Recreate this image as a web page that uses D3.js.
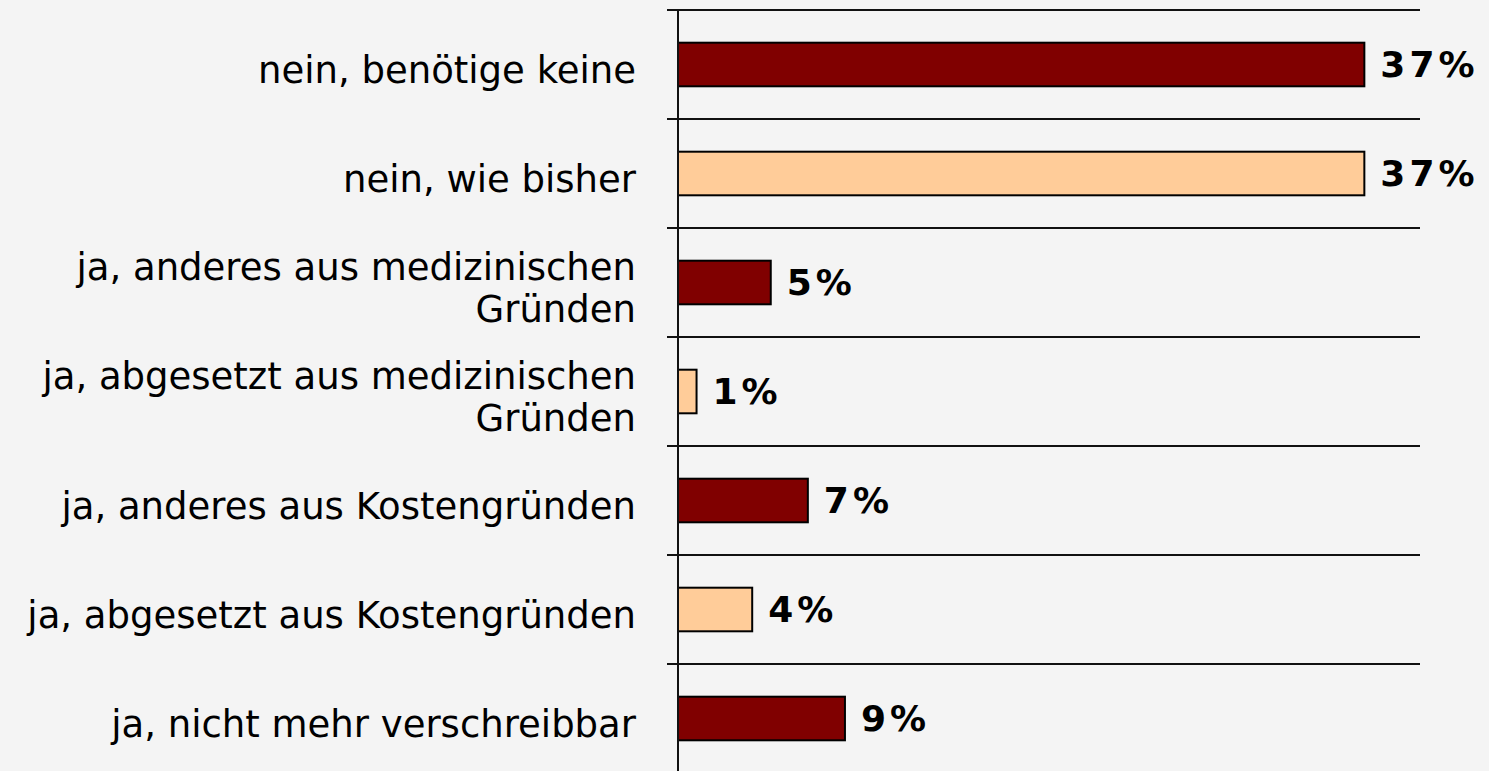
<!DOCTYPE html>
<html>
<head>
<meta charset="utf-8">
<script src="https://cdn.jsdelivr.net/npm/d3@7"></script>
<style>
  html, body { margin: 0; padding: 0; background: #f4f4f4; }
  svg { display: block; }
</style>
</head>
<body>
<svg id="chart" width="1489" height="771"></svg>
<script>
// Answer categories (top to bottom); "\n" marks a line break in the label
const categories = [
  "nein, benötige keine",
  "nein, wie bisher",
  "ja, anderes aus medizinischen\nGründen",
  "ja, abgesetzt aus medizinischen\nGründen",
  "ja, anderes aus Kostengründen",
  "ja, abgesetzt aus Kostengründen",
  "ja, nicht mehr verschreibbar"
];
// Share of respondents in percent
const values = [37, 37, 5, 1, 7, 4, 9];
// Fill colours alternate dark red / light peach
const barColors = ["#800000", "#ffcc99", "#800000", "#ffcc99", "#800000", "#ffcc99", "#800000"];
const xDomain = [0, 40];

const svg = d3.select("#chart");
const axisX = 678, plotRight = 1420, plotTop = 10, plotBottom = 773;

const x = d3.scaleLinear().domain(xDomain).range([axisX, plotRight]);
const y = d3.scaleBand().domain(categories).range([plotTop, plotBottom]).padding(0);
const barH = y.bandwidth() * 0.4;

// Horizontal separators at the top of each category band
svg.append("g")
  .selectAll("line")
  .data(categories)
  .join("line")
  .attr("x1", axisX - 11)
  .attr("x2", plotRight)
  .attr("y1", d => y(d))
  .attr("y2", d => y(d))
  .attr("stroke", "#111")
  .attr("stroke-width", 2);

// Bars
svg.append("g")
  .selectAll("rect")
  .data(categories)
  .join("rect")
  .attr("x", x(0))
  .attr("y", d => y(d) + (y.bandwidth() - barH) / 2)
  .attr("width", (d, i) => x(values[i]) - x(0))
  .attr("height", barH)
  .attr("fill", (d, i) => barColors[i])
  .attr("stroke", "#000")
  .attr("stroke-width", 2);

// Vertical category axis
svg.append("line")
  .attr("x1", axisX).attr("x2", axisX)
  .attr("y1", plotTop).attr("y2", 771)
  .attr("stroke", "#111")
  .attr("stroke-width", 2);

// Value labels
svg.append("g")
  .selectAll("text")
  .data(categories)
  .join("text")
  .attr("x", (d, i) => x(values[i]) + 16)
  .attr("y", d => y(d) + y.bandwidth() / 2)
  .attr("dy", "0.36em")
  .attr("font-family", "'DejaVu Sans', Verdana, sans-serif")
  .attr("font-weight", "bold")
  .attr("font-size", 36)
  .attr("letter-spacing", 4)
  .attr("fill", "#000")
  .text((d, i) => values[i] + "%");

// Category labels, right-aligned left of the axis
const lineH = 42;
const labels = svg.append("g")
  .selectAll("text")
  .data(categories)
  .join("text")
  .attr("text-anchor", "end")
  .attr("font-family", "'DejaVu Sans', Verdana, sans-serif")
  .attr("font-size", 37)
  .attr("fill", "#000");

labels.each(function(d) {
  const lines = d.split("\n");
  const cy = y(d) + y.bandwidth() / 2 + 5;
  const start = cy - (lines.length - 1) * lineH / 2;
  d3.select(this).selectAll("tspan")
    .data(lines)
    .join("tspan")
    .attr("x", 636)
    .attr("y", (t, k) => start + k * lineH)
    .attr("dy", "0.36em")
    .text(t => t);
});
</script>
</body>
</html>
